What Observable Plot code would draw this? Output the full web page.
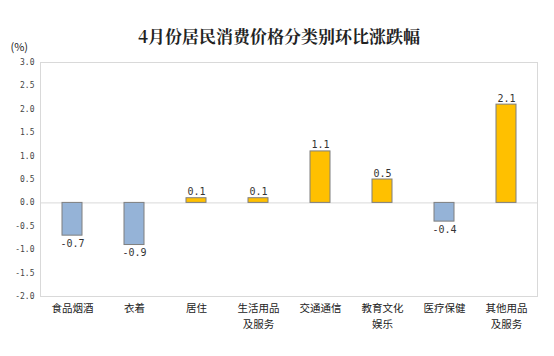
<!DOCTYPE html>
<html><head><meta charset="utf-8">
<script src="https://cdn.jsdelivr.net/npm/d3@7"></script>
<script src="https://cdn.jsdelivr.net/npm/@observablehq/plot@0.6"></script>
<style>body{margin:0;background:#fff;} svg{display:block;}</style>
</head><body><div id="chart"></div>
<script>
const title = "4月份居民消费价格分类别环比涨跌幅";
const unit = "(%)";
const categories = ["食品烟酒","衣着","居住","生活用品\n及服务","交通通信","教育文化\n娱乐","医疗保健","其他用品\n及服务"];
const values = [-0.7,-0.9,0.1,0.1,1.1,0.5,-0.4,2.1];
const yTicks = [3.0,2.5,2.0,1.5,1.0,0.5,0.0,-0.5,-1.0,-1.5,-2.0];

const data = categories.map((c,i)=>({cat:c, v:values[i]}));
const cjk = "'Noto Sans CJK SC', sans-serif";
const fmt = d => d3.format(".1f")(d).replace("−","-");

const chart = Plot.plot({
  width: 554, height: 356,
  marginTop: 62, marginBottom: 60, marginLeft: 40, marginRight: 17,
  style: {fontFamily: cjk, background: "#fff"},
  x: {domain: categories, paddingInner: 0.68, paddingOuter: 0.34, label: null},
  y: {domain: [-2, 3], label: null},
  marks: [
    Plot.frame({stroke: "#d9d9d9"}),
    Plot.ruleY([0], {stroke: "#d9d9d9"}),
    Plot.barY(data, {x: "cat", y: "v", fill: d => d.v < 0 ? "#95b3d7" : "#ffc000", stroke: "#7f7f7f", strokeWidth: 1}),
    Plot.text(data, {x: "cat", y: "v", text: d => fmt(d.v),
      lineAnchor: "bottom", fontSize: 10, fill: "#333", fontFamily: "'DejaVu Sans Mono', monospace",
      filter: d => d.v >= 0, dy: -3}),
    Plot.text(data, {x: "cat", y: "v", text: d => fmt(d.v),
      lineAnchor: "top", fontSize: 10, fill: "#333", fontFamily: "'DejaVu Sans Mono', monospace",
      filter: d => d.v < 0, dy: 4}),
    Plot.axisX({tickSize: 0, tickPadding: 8, fontSize: 10.5, fill: "#222", tickFormat: d => d.split("\n")[0]}),
    Plot.axisX({tickSize: 0, tickPadding: 24, fontSize: 10.5, fill: "#222", tickFormat: d => d.split("\n")[1] ?? ""}),
    Plot.axisY({ticks: yTicks, tickFormat: fmt, tickSize: 0, tickPadding: 6, fontSize: 8, fill: "#444", fontFamily: "'DejaVu Sans Mono', monospace"}),
    Plot.text([title], {frameAnchor: "top", dx: -10, dy: -32, fontSize: 17, fontWeight: "bold", fill: "#222", fontFamily: "'Noto Serif CJK SC', 'Noto Sans CJK SC', serif"}),
    Plot.text([unit], {frameAnchor: "top-left", dx: -30, dy: -19, fontSize: 11, fill: "#222", textAnchor: "start"})
  ]
});
document.getElementById("chart").appendChild(chart);
</script></body></html>
